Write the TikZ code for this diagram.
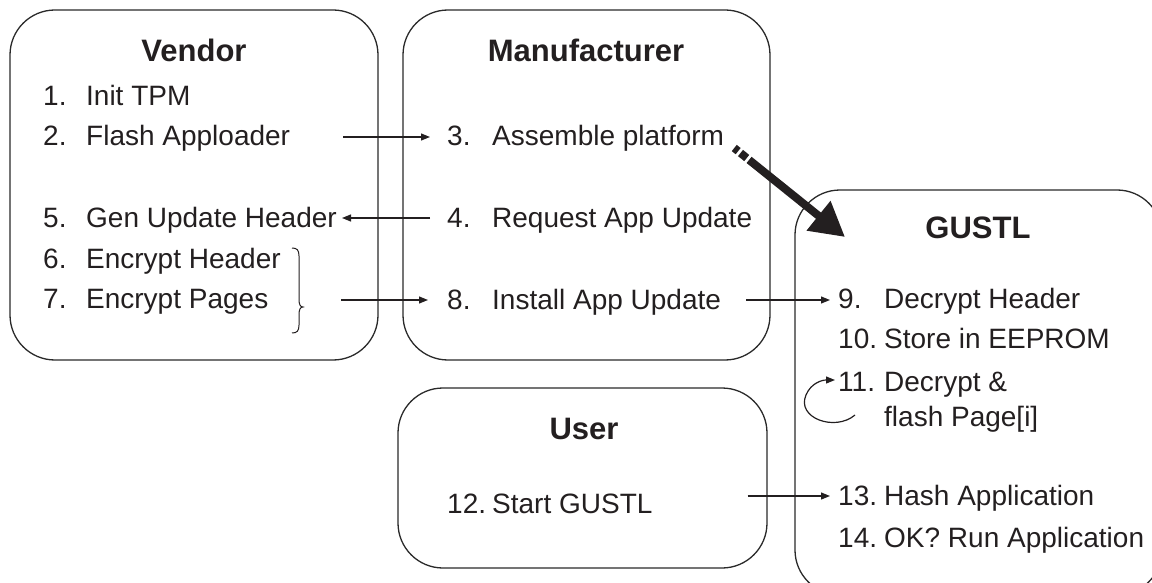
\documentclass[tikz,border=0pt]{standalone}
\usepackage{fontspec}
\setmainfont{Liberation Sans}
\usetikzlibrary{arrows.meta}
\definecolor{txt}{HTML}{231F20}
\definecolor{boxc}{HTML}{2A2A2A}
\newcommand\numtab[2]{\makebox[#1][l]{#2}}
\tikzset{
  box/.style={draw=boxc, line width=1.3pt, rounded corners=45pt, inner sep=0pt, outer sep=0pt},
  head/.style={font=\fontsize{31}{36}\selectfont\bfseries, text=txt, anchor=base, inner sep=0pt},
  item/.style={font=\fontsize{28}{34}\selectfont, text=txt, anchor=base west, inner sep=0pt,
               text height=22pt, text depth=4pt},
  arr/.style={draw=txt, line width=1.2pt, -{Triangle[length=9pt,width=7pt]}},
  bigarr/.style={draw=txt, line width=8pt, dash pattern=on 5pt off 3pt on 8pt off 3pt on 400pt,
                 -{Triangle[length=34pt,width=36pt]}},
}
\begin{document}
\begin{tikzpicture}[x=1pt,y=-1pt]
  \clip (0,0) rectangle (1152,583);

  % the four actors
  \node[box, minimum width=368pt, minimum height=350pt] (vendor) at (194,185) {};
  \node[box, minimum width=367pt, minimum height=350pt] (manu) at (586.5,185) {};
  \node[box, minimum width=369pt, minimum height=180pt] (user) at (582.5,478) {};
  \node[box, minimum width=367pt, minimum height=405pt] (gustl) at (978.5,392.5) {};

  % headings
  \node[head] (hv) at (194,62) {Vendor};
  \node[head] (hm) at (586,62) {Manufacturer};
  \node[head] (hu) at (584,439) {User};
  \node[head] (hg) at (978,238) {GUSTL};

  % vendor steps
  \node[item] (t1) at (43,106) {\numtab{43pt}{1.}Init TPM};
  \node[item] (t2) at (43,146) {\numtab{43pt}{2.}Flash Apploader};
  \node[item] (t5) at (43,227) {\numtab{43pt}{5.}Gen Update Header};
  \node[item] (t6) at (43,268) {\numtab{43pt}{6.}Encrypt Header};
  \node[item] (t7) at (43,308) {\numtab{43pt}{7.}Encrypt Pages};

  % manufacturer steps
  \node[item] (t3) at (447,146) {\numtab{45pt}{3.}Assemble platform};
  \node[item] (t4) at (447,227) {\numtab{45pt}{4.}Request App Update};
  \node[item] (t8) at (447,309) {\numtab{45pt}{8.}Install App Update};

  % user step
  \node[item] (t12) at (447,513) {\numtab{45pt}{12.}Start GUSTL};

  % GUSTL steps
  \node[item] (t9)  at (838,308) {\numtab{46pt}{9.}Decrypt Header};
  \node[item] (t10) at (838,348) {\numtab{46pt}{10.}Store in EEPROM};
  \node[item] (t11) at (838,391) {\numtab{46pt}{11.}Decrypt \&};
  \node[item] (t11b) at (884,426) {flash Page[i]};
  \node[item] (t13) at (838,505) {\numtab{46pt}{13.}Hash Application};
  \node[item] (t14) at (838,547) {\numtab{46pt}{14.}OK? Run Application};

  % brace grouping steps 6 and 7
  \coordinate (brtip) at (303,307);
  \draw[txt, line width=1pt]
    (292,248) .. controls (297,248) and (299,250) .. (299,256)
    -- (299,299) .. controls (299,304) and (300,307) .. (brtip)
    .. controls (300,307) and (299,310) .. (299,315)
    -- (299,325) .. controls (299,331) and (297,333) .. (292,333);

  % message flow
  \draw[arr, shorten <=53pt, shorten >=17pt] (t2.east) -- (t2.east -| t3.west);
  \draw[arr, shorten <=17pt, shorten >=5pt] (t4.west) -- (t4.west -| t5.east);
  \draw[arr, shorten <=38pt, shorten >=19pt] (brtip |- t8.west) -- (t8.west);
  \draw[arr, shorten <=25pt, shorten >=8pt] (t8.east) -- (t8.east -| t9.west);
  \draw[arr, shorten <=95pt, shorten >=8pt] (t12.east |- t13.west) -- (t13.west);

  % repeat loop over the pages
  \draw[arr]
    ([shift={(-29,-2)}]t11b.west)
    .. controls ([shift={(-49,15)}]t11b.west) and ([shift={(-88,1)}]t11b.west)
    .. ([shift={(-78,-22)}]t11b.west)
    .. controls ([shift={(-73,-34)}]t11b.west) and ([shift={(-62,-37)}]t11b.west)
    .. ([shift={(-3,-2)}]t11.west);

  % delivery of the platform
  \draw[bigarr] ([shift={(10,11)}]t3.east) -- ([shift={(50,47)}]gustl.north west);
\end{tikzpicture}
\end{document}
